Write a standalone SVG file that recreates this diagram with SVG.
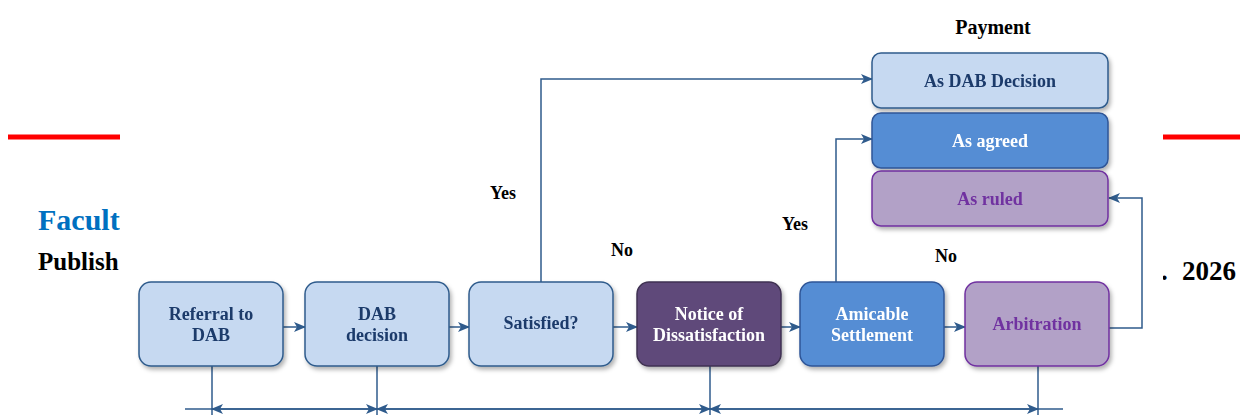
<svg xmlns="http://www.w3.org/2000/svg" width="1240" height="415" viewBox="0 0 1240 415">
<defs>
<filter id="sh" x="-10%" y="-10%" width="125%" height="135%">
<feDropShadow dx="2" dy="3" stdDeviation="2" flood-color="#000" flood-opacity="0.3"/>
</filter>
<marker id="ah" viewBox="0 0 12 10" refX="11" refY="5" markerWidth="12" markerHeight="10" markerUnits="userSpaceOnUse" orient="auto-start-reverse">
<path d="M0,0 L12,5 L0,10 L3,5 z" fill="#2F5B8C"/>
</marker>
</defs>
<style>
.pg{font-family:"Liberation Serif","Times New Roman",serif;font-weight:bold}
.t{font-family:"Liberation Serif","Times New Roman",serif;font-weight:bold;font-size:18px;text-anchor:middle}
.lb{font-family:"Liberation Serif","Times New Roman",serif;font-weight:bold;font-size:18px;text-anchor:middle;fill:#000}
.lt{fill:#C6D9F1;stroke:#2F5B8C;stroke-width:1.5}
.lt-t{fill:#1B3A6B}
.dk{fill:#5F497A;stroke:#3F3151;stroke-width:1.5}
.md{fill:#548DD4;stroke:#2F5597;stroke-width:1.5}
.wt{fill:#FFFFFF}
.pu{fill:#B2A1C7;stroke:#7030A0;stroke-width:1.5}
.pu-t{fill:#7030A0}
.c{fill:none;stroke:#2F5B8C;stroke-width:1.5}
</style>
<rect width="1240" height="415" fill="#FFFFFF"/>
<!-- page background fragments -->
<g id="page">
<rect x="8" y="134.5" width="112" height="5" fill="#FF0000"/>
<rect x="1163" y="134.5" width="77" height="5" fill="#FF0000"/>
<text class="pg" x="38" y="230" font-size="30" fill="#0070C0">Facult</text>
<text class="pg" x="38" y="270" font-size="25" fill="#000">Publish</text>
<text class="pg" x="1161" y="280" font-size="27" fill="#000">.<tspan x="1182">2026</tspan></text>
</g>
<rect x="120" y="0" width="1043" height="415" fill="#FFFFFF"/>
<!-- connectors -->
<g id="connectors">
<line class="c" x1="283" y1="327" x2="305" y2="327" marker-end="url(#ah)"/>
<line class="c" x1="449" y1="327" x2="469" y2="327" marker-end="url(#ah)"/>
<line class="c" x1="613" y1="327" x2="637" y2="327" marker-end="url(#ah)"/>
<line class="c" x1="781" y1="327" x2="800" y2="327" marker-end="url(#ah)"/>
<line class="c" x1="944" y1="327" x2="965" y2="327" marker-end="url(#ah)"/>
<polyline class="c" points="541,282 541,79 872,79" marker-end="url(#ah)"/>
<polyline class="c" points="836,282 836,139 872,139" marker-end="url(#ah)"/>
<polyline class="c" points="1109,328 1142,328 1142,198 1109,198" marker-end="url(#ah)"/>
<line class="c" x1="212" y1="366" x2="212" y2="415"/>
<line class="c" x1="377" y1="366" x2="377" y2="415"/>
<line class="c" x1="710" y1="366" x2="710" y2="415"/>
<line class="c" x1="1038" y1="366" x2="1038" y2="415"/>
<line class="c" x1="185" y1="409" x2="1063" y2="409"/>
<line class="c" x1="212" y1="409" x2="377" y2="409" marker-start="url(#ah)" marker-end="url(#ah)"/>
<line class="c" x1="377" y1="409" x2="710" y2="409" marker-start="url(#ah)" marker-end="url(#ah)"/>
<line class="c" x1="710" y1="409" x2="1038" y2="409" marker-start="url(#ah)" marker-end="url(#ah)"/>
<text class="lb" x="503" y="199">Yes</text>
<text class="lb" x="622" y="256">No</text>
<text class="lb" x="795" y="230">Yes</text>
<text class="lb" x="946" y="262">No</text>
</g>
<g id="payment-title"><text class="pg" x="993" y="34" font-size="20" text-anchor="middle" fill="#000">Payment</text></g>
<g id="n-as-dab" filter="url(#sh)">
<rect class="lt" x="872" y="53" width="236" height="55" rx="9"/>
<text class="t lt-t" x="990" y="87">As DAB Decision</text>
</g>
<g id="n-as-agreed" filter="url(#sh)">
<rect class="md" x="872" y="113" width="236" height="55" rx="9"/>
<text class="t wt" x="990" y="147">As agreed</text>
</g>
<g id="n-as-ruled" filter="url(#sh)">
<rect class="pu" x="872" y="171" width="236" height="55" rx="9"/>
<text class="t pu-t" x="990" y="205">As ruled</text>
</g>
<g id="n-referral" filter="url(#sh)">
<rect class="lt" x="139" y="282" width="144" height="84" rx="12"/>
<text class="t lt-t" x="211" y="320">Referral to</text>
<text class="t lt-t" x="211" y="341">DAB</text>
</g>
<g id="n-decision" filter="url(#sh)">
<rect class="lt" x="305" y="282" width="144" height="84" rx="12"/>
<text class="t lt-t" x="377" y="320">DAB</text>
<text class="t lt-t" x="377" y="341">decision</text>
</g>
<g id="n-satisfied" filter="url(#sh)">
<rect class="lt" x="469" y="282" width="144" height="84" rx="12"/>
<text class="t lt-t" x="541" y="329">Satisfied?</text>
</g>
<g id="n-notice" filter="url(#sh)">
<rect class="dk" x="637" y="282" width="144" height="84" rx="12"/>
<text class="t wt" x="709" y="320">Notice of</text>
<text class="t wt" x="709" y="341">Dissatisfaction</text>
</g>
<g id="n-amicable" filter="url(#sh)">
<rect class="md" x="800" y="282" width="144" height="84" rx="12"/>
<text class="t wt" x="872" y="320">Amicable</text>
<text class="t wt" x="872" y="341">Settlement</text>
</g>
<g id="n-arbitration" filter="url(#sh)">
<rect class="pu" x="965" y="282" width="144" height="84" rx="12"/>
<text class="t pu-t" x="1037" y="330">Arbitration</text>
</g>
</svg>
